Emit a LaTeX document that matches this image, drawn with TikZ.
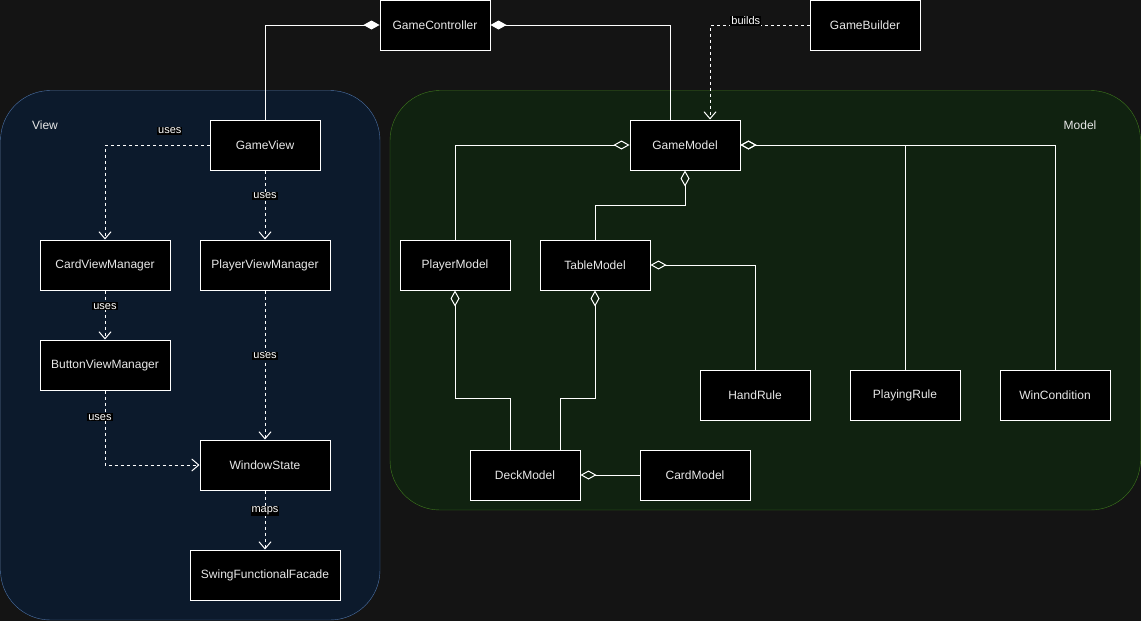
\documentclass[tikz,border=0pt]{standalone}
\usepackage{fontspec}
\setmainfont{Liberation Sans}
\usetikzlibrary{arrows.meta}
\definecolor{bg}{HTML}{141414}
\definecolor{fg}{HTML}{E8E8E8}
\definecolor{viewbg}{HTML}{0C1A2C}
\definecolor{viewline}{HTML}{4D74AA}
\definecolor{modelbg}{HTML}{102210}
\definecolor{modelline}{HTML}{3F7A1D}

\begin{document}
\begin{tikzpicture}[x=1pt, y=-1pt,
		cls/.style={draw=white, fill=black, text=fg, line width=1pt, inner sep=0pt,
			minimum width=110pt, minimum height=50pt, font=\fontsize{12}{14}\selectfont},
		lbl/.style={fill=black, text=white, inner sep=1pt, font=\fontsize{11}{13}\selectfont},
		dep/.style={draw=white, line width=1pt, dash pattern=on 3pt off 3pt,
			-{Straight Barb[length=7pt, width=12pt]}},
		comp/.style={draw=white, line width=1pt, {Diamond[length=16pt, width=9pt, fill=white]}-},
		aggr/.style={draw=white, line width=1pt, {Diamond[open, length=16pt, width=9pt]}-}]

	% canvas and groups
	\fill[bg] (0,0) rectangle (1141,621);
	\useasboundingbox (0,0) rectangle (1141,621);
	\draw[fill=viewbg, draw=viewline, rounded corners=50pt] (0.5,90.5) rectangle (380,620);
	\draw[fill=modelbg, draw=modelline, rounded corners=50pt] (390,90.5) rectangle (1140.5,510);
	\node[text=fg, font=\fontsize{12}{14}\selectfont] (viewtitle) at (45,125) {View};
	\node[text=fg, font=\fontsize{12}{14}\selectfont] (modeltitle) at (1080,125) {Model};

	% classes
	\node[cls] (ctrl) at (435,25) {GameController};
	\node[cls] (builder) at (865,25) {GameBuilder};

	\node[cls] (gview) at (265,145) {GameView};
	\node[cls, minimum width=130pt] (cvm) at (105,265) {CardViewManager};
	\node[cls, minimum width=130pt] (pvm) at (265,265) {PlayerViewManager};
	\node[cls, minimum width=130pt] (bvm) at (105,365) {ButtonViewManager};
	\node[cls, minimum width=130pt] (wstate) at (265,465) {WindowState};
	\node[cls, minimum width=150pt] (facade) at (265,575) {SwingFunctionalFacade};

	\node[cls] (gmodel) at (685,145) {GameModel};
	\node[cls] (pmodel) at (455,265) {PlayerModel};
	\node[cls] (tmodel) at (595,265) {TableModel};
	\node[cls] (hrule) at (755,395) {HandRule};
	\node[cls] (prule) at (905,395) {PlayingRule};
	\node[cls] (wcond) at (1055,395) {WinCondition};
	\node[cls] (dmodel) at (525,475) {DeckModel};
	\node[cls] (cmodel) at (695,475) {CardModel};

	% controller
	\draw[comp] (ctrl.west) -| (gview.north);
	\draw[comp] (ctrl.east) -| ([xshift=-15pt]gmodel.north);
	\draw[dep] (builder.west) -| ([xshift=25pt]gmodel.north)
		node[lbl, pos=0.32, yshift=4pt] {builds};

	% view
	\draw[dep] (gview.west) -| (cvm.north) node[lbl, pos=0.19, yshift=14pt] {uses};
	\draw[dep] (gview.south) -- (pvm.north) node[lbl, pos=0.37] {uses};
	\draw[dep] (cvm.south) -- (bvm.north) node[lbl, pos=0.32] {uses};
	\draw[dep] (pvm.south) -- (wstate.north) node[lbl, pos=0.44] {uses};
	\draw[dep] (bvm.south) |- (wstate.west) node[lbl, pos=0.18, xshift=-5pt] {uses};
	\draw[dep] (wstate.south) -- (facade.north) node[lbl, pos=0.35] {maps};

	% model
	\draw[aggr] (gmodel.west) -| (pmodel.north);
	\draw[aggr] (gmodel.south) -- ++(0,35) -| (tmodel.north);
	\draw[aggr] (gmodel.east) -| (prule.north);
	\draw[aggr] (gmodel.east) -| (wcond.north);
	\draw[aggr] (tmodel.east) -| (hrule.north);
	\draw[aggr] (pmodel.south) -- ++(0,108) -| ([xshift=-15pt]dmodel.north);
	\draw[aggr] (tmodel.south) -- ++(0,108) -| ([xshift=35pt]dmodel.north);
	\draw[aggr] (dmodel.east) -- (cmodel.west);
\end{tikzpicture}
\end{document}
